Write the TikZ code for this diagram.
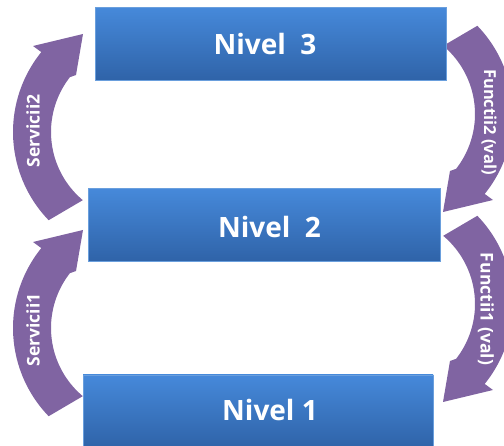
\documentclass[tikz,border=0pt]{standalone}
\usepackage{fontspec}
\setmainfont{Open Sans}
\definecolor{boxtop}{HTML}{4689DA}
\definecolor{boxbot}{HTML}{2F63A8}
\definecolor{boxedge}{HTML}{6A9FDD}
\definecolor{flowpurple}{HTML}{8064A2}
% curved band with an arrow head, drawn around the centre (140,132)
\newcommand\bentarrow{%
  \fill[flowpurple]
    plot[domain=136:219,samples=40] ({140+127*cos(\x)},{132+127*sin(\x)})
    -- (33,46) -- (83,34) -- (76,75)
    -- plot[domain=218:130,samples=40] ({140+89*cos(\x)},{132+89*sin(\x)})
    -- cycle;}
\begin{document}
\begin{tikzpicture}[x=1pt,y=-1pt,
  level/.style={draw=boxedge, line width=0.8pt, top color=boxtop,
    bottom color=boxbot, inner sep=0pt, minimum height=73pt},
  leveltext/.style={text=white, inner sep=0pt,
    font=\fontsize{28}{31}\selectfont\bfseries},
  flowtext/.style={text=white, inner sep=0pt,
    font=\fontsize{17.5}{20}\selectfont\bfseries}]
\useasboundingbox (0,0) rectangle (504,446);
\clip (0,0) rectangle (504,446);

% flows between the levels
\bentarrow
\begin{scope}[shift={(0,196)}]\bentarrow\end{scope}
\begin{scope}[rotate around={180:(263,123)}]\bentarrow\end{scope}
\begin{scope}[shift={(0,190)}, rotate around={180:(263,123)}]\bentarrow\end{scope}

% levels
\node[level, minimum width=351pt] (n3) at (270.5,44) {};
\node[level, minimum width=352pt] (n2) at (264,225) {};
\node[level, minimum width=350pt] (n1) at (258,411.5) {};

\node[leveltext] (t3) at (265,44) {Nivel\ \ 3};
\node[leveltext] (t2) at (269.5,227) {Nivel\ \ 2};
\node[leveltext] (t1) at (270,410) {Nivel 1};

% flow labels
\node[flowtext, rotate=90] (s2) at (33,131) {Servicii2};
\node[flowtext, rotate=90] (s1) at (33,330) {Servicii1};
\node[flowtext, rotate=-90, font=\fontsize{16.5}{19}\selectfont\bfseries] (f2) at (489,122) {Functii2 (val)};
\node[flowtext, rotate=-90] (f1) at (486,309) {Functii1 (val)};
\end{tikzpicture}
\end{document}
